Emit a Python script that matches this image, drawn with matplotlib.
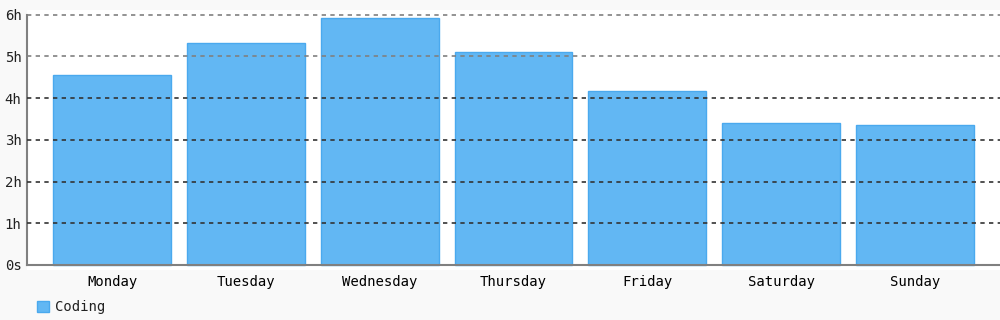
import matplotlib
matplotlib.use("Agg")
from matplotlib import pyplot as plt

days = ["Monday", "Tuesday", "Wednesday", "Thursday", "Friday", "Saturday", "Sunday"]
coding_hours = [4.55, 5.32, 5.92, 5.11, 4.17, 3.40, 3.35]
y_ticks = [0, 1, 2, 3, 4, 5, 6]
y_labels = ["0s", "1h", "2h", "3h", "4h", "5h", "6h"]

plt.rcParams['font.family'] = ['DejaVu Sans Mono']

fig = plt.figure(figsize=(10, 3.2), dpi=100, facecolor="#f9f9f9")
ax = fig.add_axes([0.027, 1 - 270 / 320, 0.973, 260 / 320])
ax.set_facecolor("white")

x = list(range(len(days)))
ax.bar(x, coding_hours, width=0.88, color="#62b7f3", edgecolor="#4aa9ee",
       linewidth=1, label="Coding", zorder=2)

ax.set_xlim(-0.636, len(days) - 1 + 0.636)
ax.set_ylim(-0.12, 6.113)

ax.set_yticks(y_ticks)
ax.set_yticklabels(y_labels, fontsize=10, color="#222222")
ax.set_xticks(x)
ax.set_xticklabels(days, fontsize=10, color="#222222")
ax.tick_params(axis="both", length=0)
ax.tick_params(axis="y", pad=4)
ax.tick_params(axis="x", pad=7)

# dashed guides, the upper two lighter
for v in y_ticks[1:]:
    c = "#808080" if v >= 5 else "#333333"
    ax.axhline(v, color=c, linewidth=1.2, dashes=(2.6, 2.6), zorder=3)

for s in ["top", "right"]:
    ax.spines[s].set_visible(False)
ax.spines["left"].set_bounds(0, 6)
ax.spines["left"].set_color("#808080")
ax.spines["left"].set_linewidth(1.5)
ax.spines["bottom"].set_position(("data", 0))
ax.spines["bottom"].set_color("#808080")
ax.spines["bottom"].set_linewidth(1.5)
ax.spines["bottom"].set_zorder(4)

fig.legend(loc="center left", bbox_to_anchor=(0.037, 1 - 307 / 320), frameon=False,
           fontsize=10, handlelength=0.86, handleheight=0.86, handletextpad=0.4,
           borderpad=0, borderaxespad=0, labelcolor="#222222")

fig.savefig("out.png", facecolor=fig.get_facecolor())
